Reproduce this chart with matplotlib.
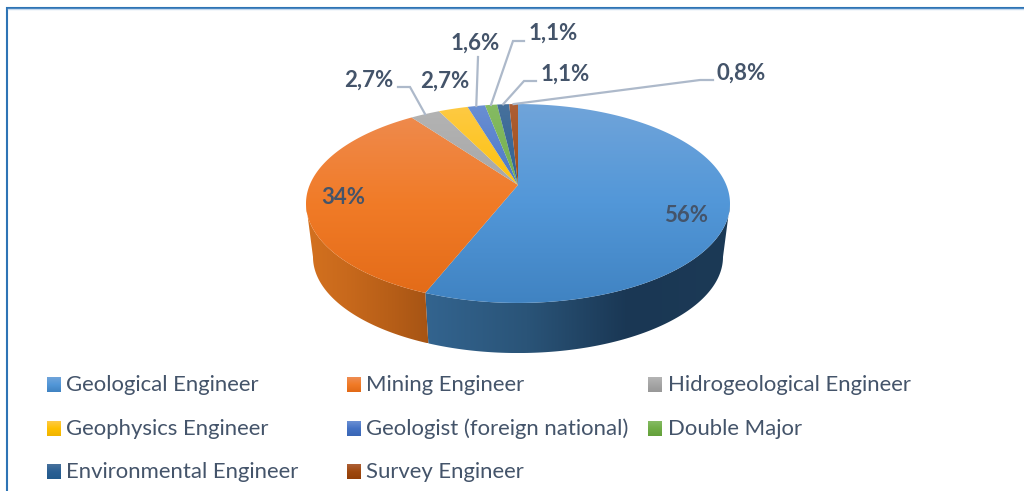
import numpy as np
import matplotlib
matplotlib.use("Agg")
import matplotlib.pyplot as plt
from matplotlib.colors import LinearSegmentedColormap
from matplotlib.patches import Polygon

categories = ["Geological Engineer", "Mining Engineer", "Hidrogeological Engineer",
              "Geophysics Engineer", "Geologist (foreign national)", "Double Major",
              "Environmental Engineer", "Survey Engineer"]
values = [56, 34, 2.7, 2.7, 1.6, 1.1, 1.1, 0.8]
value_labels = ["56%", "34%", "2,7%", "2,7%", "1,6%", "1,1%", "1,1%", "0,8%"]

# top face: light / middle / dark
face_colors = [("#70a4da", "#5297d8", "#4083c2"),
               ("#ee8c52", "#f17b27", "#e26a17"),
               ("#b4b4b4", "#a5a5a5", "#989898"),
               ("#fdca45", "#ffc000", "#f0b400"),
               ("#6a8fd3", "#4472c4", "#3a66b5"),
               ("#85bb63", "#70ad47", "#64a03c"),
               ("#47719c", "#2a5f93", "#225a8c"),
               ("#ad5f35", "#9e480e", "#923f08")]
# side wall: left to right
wall_colors = [("#33648f", "#2a5478", "#1a3754", "#1c3a56"),
               ("#d4711f", "#c8691c", "#b85f18", "#a65414")]
text_color = "#44546a"
line_color = "#adb9ca"
frame_color = "#2e74b5"

# pie geometry in pixels, perspective fitted on the picture
cx, cy, depth_y = 518, 185, 239
rx, ry, persp = 208.3, 96, 0.186
bottom_scale = 0.967

# label centre and leader elbow (None = no leader)
label_pos = [(686, 215), (343, 198), (369, 80), (445, 81), (475, 43), (553, 33), (565, 74), (741, 73)]
elbows = [None, None, [(398, 87), (410, 87)], None, [(478, 57)],
          [(524, 41), (513, 41)], [(536, 81), (524, 81)], [(713, 80), (700, 80)]]

legend_x = [46.5, 347, 648]
legend_y = [385, 428.5, 472]


def rim(theta, bottom=False):
    t = np.radians(theta)
    w = 1 + persp * np.cos(t)
    x = rx * np.sin(t) / w
    y = -ry * np.cos(t) / w
    if bottom:
        return cx + bottom_scale * x, depth_y + bottom_scale * y
    return cx + x, cy + y


def grad_fill(ax, poly, cmap, extent, horizontal=False):
    n = 256
    g = np.linspace(0, 1, n)
    g = g.reshape(1, n) if horizontal else g.reshape(n, 1)
    im = ax.imshow(g, cmap=cmap, extent=extent, aspect="auto", origin="upper",
                   vmin=0, vmax=1, interpolation="bilinear", zorder=poly.get_zorder())
    poly.set_facecolor("none")
    poly.set_edgecolor("none")
    ax.add_patch(poly)
    im.set_clip_path(poly)


fig = plt.figure(figsize=(10.24, 4.91), dpi=100)
ax = fig.add_axes([0, 0, 1, 1])
plt.rcParams["font.family"] = ["Lato", "DejaVu Sans"]

edges = np.concatenate([[0], np.cumsum(values)]) / np.sum(values) * 360

# side walls, only up to the points where the rim turns away
tangent = np.degrees(np.arccos(-persp))
for i in range(2):
    t1, t2 = max(edges[i], tangent), min(edges[i + 1], 360 - tangent)
    th = np.linspace(t1, t2, 120)
    xt, yt = rim(th)
    xb, yb = rim(th, bottom=True)
    pts = np.column_stack([np.concatenate([xt, xb[::-1]]), np.concatenate([yt, yb[::-1]])])
    x0, x1 = pts[:, 0].min(), pts[:, 0].max()
    cmap = LinearSegmentedColormap.from_list("w%d" % i, wall_colors[i])
    grad_fill(ax, Polygon(pts, closed=True, zorder=2), cmap,
              (x0, x1, pts[:, 1].max(), pts[:, 1].min()), horizontal=True)

# top face
top_y, bot_y = rim(0)[1], rim(180)[1]
for i in range(len(values)):
    th = np.linspace(edges[i], edges[i + 1], 200)
    xt, yt = rim(th)
    pts = np.column_stack([np.r_[cx, xt], np.r_[cy, yt]])
    cmap = LinearSegmentedColormap.from_list("f%d" % i, face_colors[i])
    grad_fill(ax, Polygon(pts, closed=True, zorder=3), cmap,
              (rim(270)[0] - 5, rim(90)[0] + 5, bot_y, top_y))

# leaders, anchored on the middle of each slice
for i in range(len(values)):
    if elbows[i] is None:
        continue
    mx, my = rim((edges[i] + edges[i + 1]) / 2)
    xs = [p[0] for p in elbows[i]] + [mx]
    ys = [p[1] for p in elbows[i]] + [my]
    ax.plot(xs, ys, color=line_color, lw=1.6, zorder=4, solid_joinstyle="miter")

for i, txt in enumerate(value_labels):
    ax.text(label_pos[i][0], label_pos[i][1], txt, color=text_color, fontsize=16,
            fontweight="bold", ha="center", va="center", zorder=5)

# legend
for i, name in enumerate(categories):
    lx = legend_x[i % 3]
    ly = legend_y[i // 3]
    cmap = LinearSegmentedColormap.from_list("l%d" % i, face_colors[i])
    ax.imshow(np.linspace(0, 1, 32).reshape(32, 1), cmap=cmap, aspect="auto", origin="upper",
              extent=(lx, lx + 14, ly + 7.5, ly - 7.5), zorder=3)
    ax.text(lx + 19.5, ly + 0.3, name, color=text_color, fontsize=15.9, ha="left", va="center")

# frame
ax.plot([6.5, 6.5, 1024], [491, 7.5, 7.5], color=frame_color, lw=1.5, solid_joinstyle="miter")
ax.plot([8, 1024], [9, 9], color="#c5d9ee", lw=1)

ax.set_xlim(0, 1024)
ax.set_ylim(491, 0)
ax.axis("off")
fig.savefig("out.png", dpi=100, facecolor="white")
